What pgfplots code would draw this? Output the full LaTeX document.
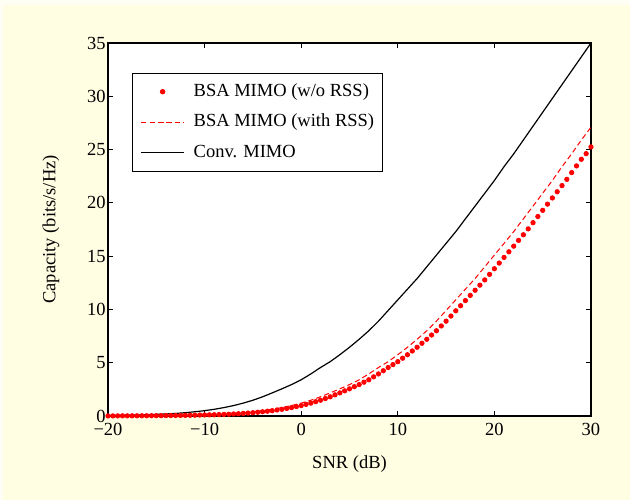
\documentclass[border=0pt]{standalone}
\usepackage{fontspec}
\setmainfont{Liberation Serif}
\usepackage{pgfplots}
\pgfplotsset{compat=1.18}
\definecolor{figbg}{RGB}{255,253,226}
\newcommand{\lf}{\fontsize{9.25pt}{11pt}\selectfont}

% BSA MIMO without RSS (dotted markers, every 0.5 dB)
\pgfplotstableread{
snr cap
-20 0.010
-19.5 0.012
-19 0.013
-18.5 0.015
-18 0.016
-17.5 0.018
-17 0.020
-16.5 0.023
-16 0.025
-15.5 0.029
-15 0.032
-14.5 0.036
-14 0.040
-13.5 0.045
-13 0.050
-12.5 0.055
-12 0.060
-11.5 0.070
-11 0.080
-10.5 0.090
-10 0.100
-9.5 0.110
-9 0.120
-8.5 0.135
-8 0.150
-7.5 0.170
-7 0.190
-6.5 0.215
-6 0.240
-5.5 0.275
-5 0.310
-4.5 0.355
-4 0.400
-3.5 0.450
-3 0.500
-2.5 0.565
-2 0.630
-1.5 0.710
-1 0.790
-0.5 0.885
0 0.980
0.5 1.095
1 1.210
1.5 1.345
2 1.480
2.5 1.640
3 1.800
3.5 1.985
4 2.170
4.5 2.360
5 2.550
5.5 2.750
6 2.950
6.5 3.175
7 3.400
7.5 3.675
8 3.950
8.5 4.250
9 4.550
9.5 4.825
10 5.100
10.5 5.425
11 5.750
11.5 6.100
12 6.450
12.5 6.825
13 7.200
13.5 7.600
14 8.000
14.5 8.450
15 8.900
15.5 9.380
16 9.870
16.5 10.35
17 10.83
17.5 11.32
18 11.80
18.5 12.28
19 12.77
19.5 13.29
20 13.82
20.5 14.35
21 14.88
21.5 15.41
22 15.94
22.5 16.48
23 17.01
23.5 17.56
24 18.14
24.5 18.72
25 19.30
25.5 19.88
26 20.46
26.5 21.04
27 21.62
27.5 22.21
28 22.84
28.5 23.47
29 24.09
29.5 24.62
30 25.25
}\bsawo

% BSA MIMO with RSS (dashed)
\pgfplotstableread{
snr cap
-20 0.013
-19 0.016
-18 0.020
-17 0.025
-16 0.032
-15 0.040
-14 0.050
-13 0.060
-12 0.080
-11 0.100
-10 0.120
-9 0.150
-8 0.190
-7 0.240
-6 0.310
-5 0.400
-4 0.500
-3 0.630
-2 0.790
-1 0.980
0 1.210
1 1.480
2 1.800
3 2.170
4 2.550
5 2.950
6 3.400
7 3.950
8 4.550
9 5.100
10 5.750
11 6.450
12 7.200
13 8.000
14 8.900
15 9.900
16 10.90
17 11.90
18 12.90
19 14.00
20 15.10
21 16.20
22 17.30
23 18.50
24 19.70
25 20.90
26 22.10
27 23.40
28 24.60
29 25.90
30 27.10
}\bsaw

% conventional MIMO (solid)
\pgfplotstableread{
snr cap
-20 0.050
-19 0.060
-18 0.080
-17 0.100
-16 0.120
-15 0.150
-14 0.190
-13 0.240
-12 0.310
-11 0.400
-10 0.500
-9 0.630
-8 0.790
-7 0.980
-6 1.210
-5 1.480
-4 1.800
-3 2.170
-2 2.550
-1 2.950
0 3.400
1 3.950
2 4.550
3 5.100
4 5.750
5 6.450
6 7.200
7 8.000
8 8.900
9 9.900
10 10.90
11 11.90
12 12.90
13 14.00
14 15.10
15 16.20
16 17.30
17 18.50
18 19.70
19 20.90
20 22.10
21 23.40
22 24.60
23 25.90
24 27.20
25 28.50
26 29.80
27 31.10
28 32.40
29 33.70
30 35.00
}\conv

\begin{document}
\begin{tikzpicture}
\fill[figbg!40!white] (-54pt,-42pt) rectangle (261pt,208pt);
\fill[figbg] (-52.5pt,-42pt) rectangle (261pt,205.5pt);
\begin{axis}[
  at={(0,0)}, anchor=south west,
  scale only axis, width=241.5pt, height=186.5pt,
  xmin=-20, xmax=30, ymin=0, ymax=35,
  xtick={-20,-10,0,10,20,30},
  xticklabels={−20,−10,0,10,20,30},
  ytick={0,5,10,15,20,25,30,35},
  tick align=inside, major tick length=2.5pt,
  axis line style={line width=0.8pt},
  every tick/.style={black, line width=0.5pt},
  axis background/.style={fill=white},
  tick label style={font=\lf, inner sep=1pt},
  xticklabel style={yshift=-2.5pt},
  /pgf/number format/assume math mode=true,
  xlabel={SNR (dB)},
  ylabel={Capacity (bits/s/Hz)},
  label style={font=\lf},
  xlabel style={at={(axis description cs:0.5,-0.129)}, anchor=center},
  ylabel style={at={(axis description cs:-0.118,0.5)}, anchor=center},
  legend image code/.code={\draw[mark repeat=2,mark phase=2,#1] plot coordinates {(0pt,0pt) (10.75pt,0pt) (21.5pt,0pt)};},
  legend style={at={(axis description cs:0.0497,0.9196)}, anchor=north west,
    draw=black, line width=0.5pt, fill=white, font=\lf,
    inner xsep=4pt, inner ysep=4.8pt, row sep=6.7pt, column sep=4.5pt,
    nodes={inner sep=0pt, text height=6.6pt, text depth=2pt},
    cells={anchor=west}},
]
\addplot[only marks, mark=*, mark size=1.1pt, red, mark options={draw=none, fill=red}] table[x=snr, y=cap] {\bsawo};
\addlegendentry{BSA MIMO (w/o RSS)}
\addplot[red, line width=0.5pt, dash pattern=on 2.6pt off 1.6pt] table[x=snr, y=cap] {\bsaw};
\addlegendentry{BSA MIMO (with RSS)}
\addplot[black, line width=0.6pt] table[x=snr, y=cap] {\conv};
\addlegendentry{Conv. MIMO}
\end{axis}
\pgfresetboundingbox
\path (-54pt,-42pt) rectangle (261pt,208pt);
\end{tikzpicture}
\end{document}
